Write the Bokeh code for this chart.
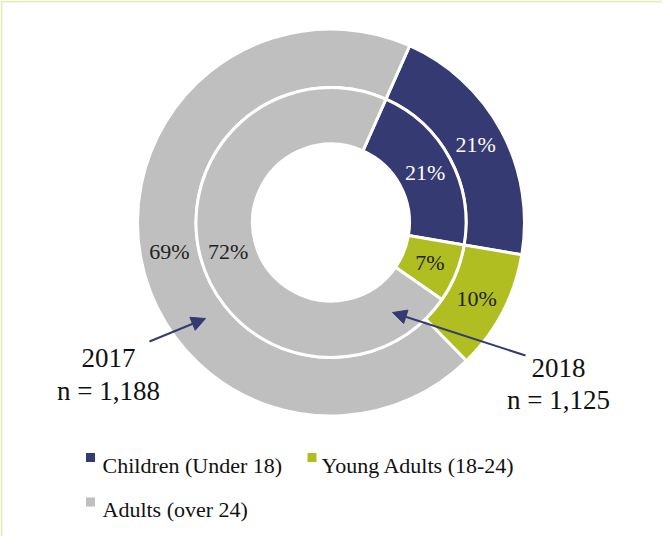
import math
from bokeh.plotting import figure
from bokeh.models import Range1d, BoxAnnotation, Arrow, NormalHead, ColumnDataSource
from bokeh.core.properties import value
from bokeh.embed import file_html
from bokeh.resources import INLINE

# ---- data ----
categories = ["Children (Under 18)", "Young Adults (18-24)", "Adults (over 24)"]
colors = ["#363A72", "#B0BE22", "#BFBFBF"]
label_colors = ["white", "#222222", "#222222"]
values_2017 = [21, 10, 69]   # outer ring
values_2018 = [21, 7, 72]    # inner ring
year_labels = ["2017", "2018"]
n_labels = ["n = 1,188", "n = 1,125"]

FONT = value("Liberation Serif")
W, H = 662, 536
def Y(py):  # page y -> data y
    return 544 - py

p = figure(width=W, height=H, output_backend="svg", toolbar_location=None,
           x_range=Range1d(8, 670), y_range=Range1d(0, 536), min_border=0)
p.axis.visible = False
p.grid.visible = False
p.outline_line_color = None
p.background_fill_color = "white"

cx, cy = 338.5, Y(230)
first_angle = 24.0  # degrees clockwise from 12 o'clock

def ring(vals, r_in, r_out):
    total = sum(vals)
    starts, ends, mids = [], [], []
    cum = 0.0
    for v in vals:
        a0 = math.radians(90 - first_angle - cum / total * 360)
        cum += v
        a1 = math.radians(90 - first_angle - cum / total * 360)
        starts.append(a0); ends.append(a1); mids.append((a0 + a1) / 2)
    src = ColumnDataSource(dict(start=starts, end=ends, color=colors))
    p.annular_wedge(x=cx, y=cy, inner_radius=r_in, outer_radius=r_out,
                    start_angle="start", end_angle="end", direction="clock",
                    fill_color="color", line_color="white", line_width=3, source=src)
    rm = (r_in + r_out) / 2
    lsrc = ColumnDataSource(dict(
        x=[cx + rm * math.cos(m) for m in mids],
        y=[cy + rm * math.sin(m) for m in mids],
        t=[f"{v}%" for v in vals], c=label_colors))
    p.text(x="x", y="y", text="t", text_color="c", source=lsrc,
           text_font=FONT, text_font_size="22px",
           text_align="center", text_baseline="middle")

ring(values_2017, 135, 193.5)
ring(values_2018, 78.5, 135)

# year annotations
p.text(x=[116, 116], y=[Y(365), Y(398)], text=[year_labels[0], n_labels[0]],
       text_font=FONT, text_font_size="27px", text_color="#111111",
       text_align="center", text_baseline="alphabetic")
p.text(x=[566, 566], y=[Y(375), Y(407)], text=[year_labels[1], n_labels[1]],
       text_font=FONT, text_font_size="27px", text_color="#111111",
       text_align="center", text_baseline="alphabetic")

navy = colors[0]
p.add_layout(Arrow(x_start=157, y_start=Y(349), x_end=213, y_end=Y(326),
                   line_color=navy, line_width=2,
                   end=NormalHead(size=14, fill_color=navy, line_color=navy)))
p.add_layout(Arrow(x_start=533, y_start=Y(363), x_end=400, y_end=Y(320),
                   line_color=navy, line_width=2,
                   end=NormalHead(size=14, fill_color=navy, line_color=navy)))

# legend (manual)
leg_sq_x = [98, 319.5, 98]
leg_sq_y = [Y(465), Y(465), Y(509.5)]
leg_tx_x = [110, 329, 110]
leg_tx_y = [Y(473), Y(473), Y(517)]
p.rect(x=leg_sq_x, y=leg_sq_y, width=9, height=9, width_units="screen",
       height_units="screen", fill_color=colors, line_color=None)
p.text(x=leg_tx_x, y=leg_tx_y, text=categories, text_font=FONT,
       text_font_size="22px", text_color="#111111",
       text_align="left", text_baseline="alphabetic")

# frame border
p.add_layout(BoxAnnotation(left=9, right=2000, bottom=-2000, top=535,
                           fill_alpha=0, line_color="#B3C232", line_width=2))

open("out.html", "w").write(file_html(p, INLINE))
